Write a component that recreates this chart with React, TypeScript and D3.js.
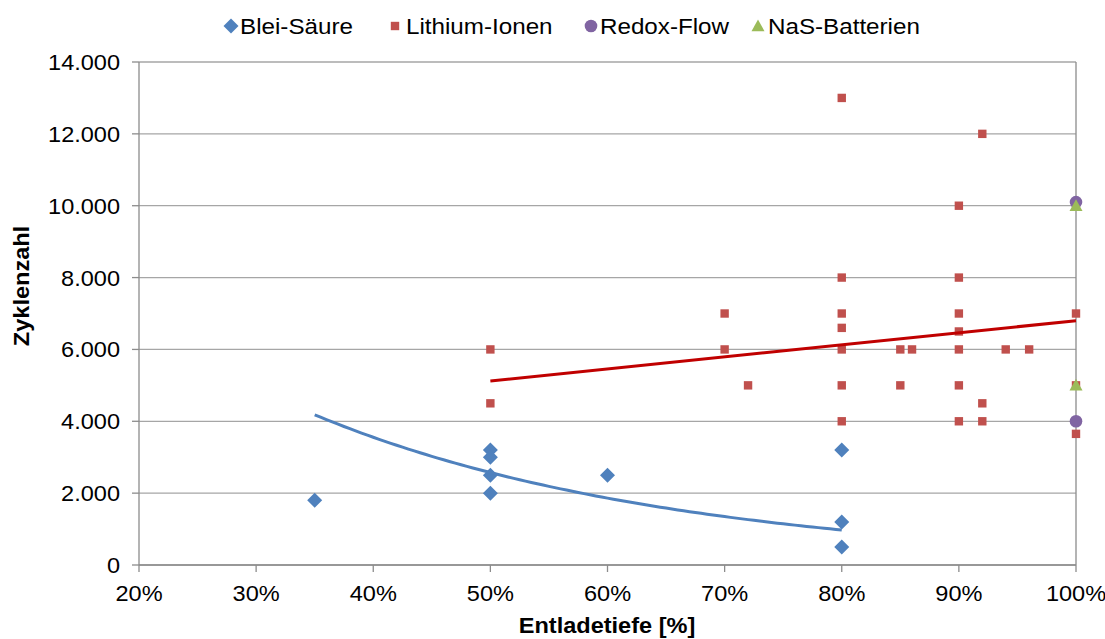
import React from "react";
import * as d3 from "d3";

// ---- data ----
const bleiX = [35, 50, 50, 50, 50, 60, 80, 80, 80];
const bleiY = [1800, 3200, 3000, 2500, 2000, 2500, 3200, 1200, 500];

const liX = [50, 50, 70, 70, 72, 80, 80, 80, 80, 80, 80, 80, 85, 85, 86, 90, 90, 90, 90, 90, 90, 90, 92, 92, 92, 94, 96, 100, 100, 100, 100];
const liY = [6000, 4500, 7000, 6000, 5000, 13000, 8000, 7000, 6600, 6000, 5000, 4000, 6000, 5000, 6000, 10000, 8000, 7000, 6500, 6000, 5000, 4000, 12000, 4500, 4000, 6000, 6000, 7000, 5000, 4000, 3650];

const redoxX = [100, 100];
const redoxY = [10100, 4000];

const nasX = [100, 100];
const nasY = [10000, 5000];

// trend lines (end points)
const bleiTrendX = [35, 80];
const bleiTrendY = [4180, 975];
const liTrendX = [50, 100];
const liTrendY = [5120, 6800];

const xTicks = [20, 30, 40, 50, 60, 70, 80, 90, 100];
const yTicks = [0, 2000, 4000, 6000, 8000, 10000, 12000, 14000];

const seriesNames = ["Blei-Säure", "Lithium-Ionen", "Redox-Flow", "NaS-Batterien"];

// ---- styles ----
const C_BLUE = "#4F81BD";
const C_RED = "#C0504D";
const C_PURPLE = "#8064A2";
const C_GREEN = "#9BBB59";
const C_REDLINE = "#C00000";
const FONT = "'Liberation Sans', Arial, sans-serif";

const W = 1105, H = 639;
const left = 139, right = 1076, top = 62, bottom = 565;

const de = d3.formatLocale({ decimal: ",", thousands: ".", grouping: [3], currency: ["", " €"] });
const fmtY = de.format(",.0f");

function Txt(props: { x: number; y: number; anchor?: string; size?: number; bold?: boolean; rotate?: number; sx?: number; children: any }) {
  const { x, y, anchor = "start", size = 22, bold = false, rotate = 0, sx = 1.07, children } = props;
  return (
    <g transform={`translate(${x},${y}) rotate(${rotate}) scale(${sx},1)`}>
      <text x={0} y={0} textAnchor={anchor} fontSize={size} fontWeight={bold ? "bold" : "normal"} fontFamily={FONT} fill="#000">
        {children}
      </text>
    </g>
  );
}

function Marker({ kind, x, y }: { kind: number; x: number; y: number }) {
  if (kind === 0) {
    const s = 7.5;
    return <path d={`M${x},${y - s}L${x + s},${y}L${x},${y + s}L${x - s},${y}Z`} fill={C_BLUE} />;
  }
  if (kind === 1) {
    const s = 4.2;
    return <rect x={x - s} y={y - s} width={2 * s} height={2 * s} fill={C_RED} />;
  }
  if (kind === 2) {
    return <circle cx={x} cy={y} r={6.3} fill={C_PURPLE} />;
  }
  const h = 6.5;
  return <path d={`M${x},${y - h}L${x + 6.5},${y + h * 0.8}L${x - 6.5},${y + h * 0.8}Z`} fill={C_GREEN} />;
}

export default function App() {
  const x = d3.scaleLinear().domain([20, 100]).range([left, right]);
  const y = d3.scaleLinear().domain([0, 14000]).range([bottom, top]);

  // exponential trend through the two read end points
  const b = Math.log(bleiTrendY[1] / bleiTrendY[0]) / (bleiTrendX[1] - bleiTrendX[0]);
  const a = bleiTrendY[0] / Math.exp(b * bleiTrendX[0]);
  const bleiCurve = d3.range(bleiTrendX[0], bleiTrendX[1] + 0.001, 0.5).map((v) => [v, a * Math.exp(b * v)] as [number, number]);
  const line = d3.line<[number, number]>().x((d) => x(d[0])).y((d) => y(d[1]));
  const liLine: [number, number][] = liTrendX.map((v, i) => [v, liTrendY[i]]);

  const legendItems = [
    { kind: 0, mx: 231, tx: 240 },
    { kind: 1, mx: 395, tx: 406 },
    { kind: 2, mx: 591, tx: 600 },
    { kind: 3, mx: 758, tx: 768 },
  ];

  return (
    <svg width={W} height={H} style={{ position: "absolute", left: 0, top: 0, background: "#fff" }}>
      <rect x={0} y={0} width={W} height={H} fill="#fff" />
      {/* grid */}
      {yTicks.map((t) => (
        <line key={"g" + t} x1={left} x2={right} y1={y(t)} y2={y(t)} stroke="#A6A6A6" strokeWidth={1.3} />
      ))}
      {/* axes */}
      <line x1={left} x2={left} y1={top} y2={bottom} stroke="#8C8C8C" strokeWidth={1.3} />
      <line x1={right} x2={right} y1={top} y2={bottom} stroke="#8C8C8C" strokeWidth={1.3} />
      <line x1={left} x2={right} y1={bottom} y2={bottom} stroke="#8C8C8C" strokeWidth={1.3} />
      {yTicks.map((t) => (
        <line key={"yt" + t} x1={left - 7} x2={left} y1={y(t)} y2={y(t)} stroke="#8C8C8C" strokeWidth={1.3} />
      ))}
      {xTicks.map((t) => (
        <line key={"xt" + t} x1={x(t)} x2={x(t)} y1={bottom} y2={bottom + 7} stroke="#8C8C8C" strokeWidth={1.3} />
      ))}
      {/* tick labels */}
      {yTicks.map((t) => (
        <Txt key={"yl" + t} x={120} y={y(t) + 8} anchor="end">{fmtY(t)}</Txt>
      ))}
      {xTicks.map((t) => (
        <Txt key={"xl" + t} x={x(t)} y={601} anchor="middle">{t + "%"}</Txt>
      ))}
      {/* axis titles */}
      <Txt x={607} y={633} anchor="middle" bold>Entladetiefe [%]</Txt>
      <Txt x={29} y={286} anchor="middle" bold rotate={-90}>Zyklenzahl</Txt>

      {/* series */}
      {bleiX.map((v, i) => <Marker key={"b" + i} kind={0} x={x(v)} y={y(bleiY[i])} />)}
      {liX.map((v, i) => <Marker key={"l" + i} kind={1} x={x(v)} y={y(liY[i])} />)}
      {redoxX.map((v, i) => <Marker key={"r" + i} kind={2} x={x(v)} y={y(redoxY[i])} />)}
      {nasX.map((v, i) => <Marker key={"n" + i} kind={3} x={x(v)} y={y(nasY[i])} />)}

      {/* trend lines */}
      <path d={line(bleiCurve) || ""} fill="none" stroke={C_BLUE} strokeWidth={3} />
      <path d={line(liLine) || ""} fill="none" stroke={C_REDLINE} strokeWidth={3} />

      {/* legend */}
      {legendItems.map((it, i) => (
        <g key={"lg" + i}>
          <Marker kind={it.kind} x={it.mx} y={26} />
          <Txt x={it.tx} y={34} sx={1.1}>{seriesNames[i]}</Txt>
        </g>
      ))}
    </svg>
  );
}
